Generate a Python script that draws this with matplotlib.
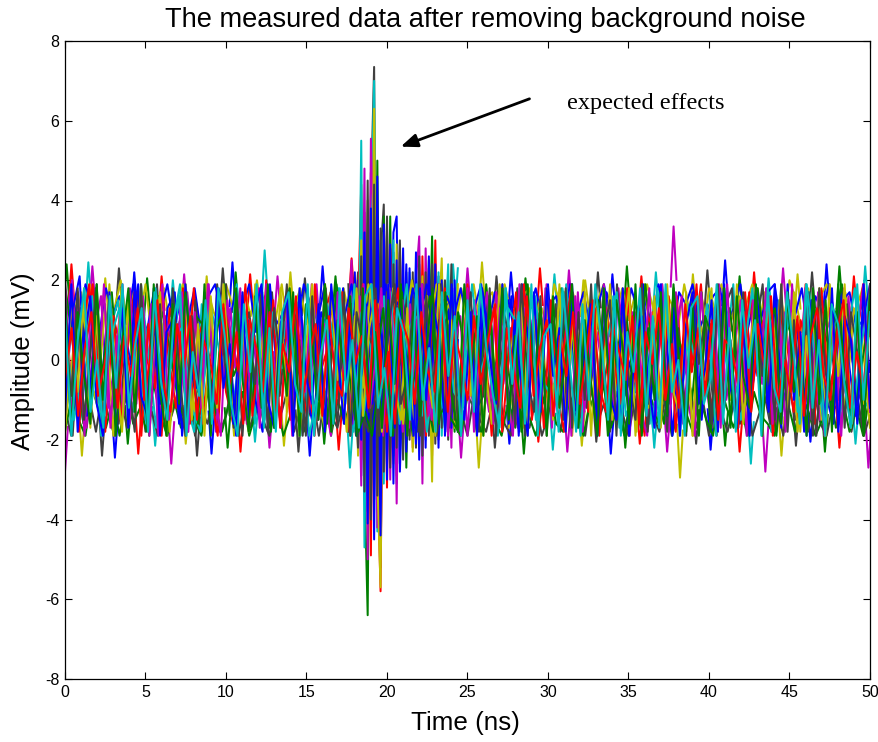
import matplotlib
matplotlib.use('Agg')
import matplotlib.pyplot as plt
import numpy as np

plt.rcParams['font.family'] = ['Liberation Sans', 'DejaVu Sans']
plt.rcParams['axes.unicode_minus'] = False

# MATLAB line colours
colors = ['#0000ff', '#007f00', '#ff0000', '#00bfbf', '#bf00bf', '#bfbf00', '#404040']

# long traces over the whole 0-50 ns record (mV), evenly spaced
trace_1 = [1.5,-1.2,0.4,1.9,-0.7,-1.8,1.1,0.2,-1.4,1.7,-0.3,0.9,-1.9,1.3,0.5,-1.0,1.8,-1.6,0.1,1.2,-0.8,-1.7,1.6,0.3,-1.3,2.0,-0.5,0.7,-1.5,1.4,-0.1,-1.9,1.0,1.7,-1.1,0.6,-1.6,1.9,-0.4,0.8,-1.8,1.2,0.2,-1.2,1.6,-0.9,-1.7,1.5,0.4,-1.4,1.8,-0.2,0.9,-1.9,1.1,0.6,-1.0,1.9,-1.5,0.3,1.4,-0.7,-1.8,1.7,0.1,-1.3,1.3,-0.6,0.8,-1.6,1.8,-0.3,-1.9,1.2,0.5,-1.1,1.6,-1.4,0.2,1.9,-0.8,-1.6,1.0,0.7,-1.2,1.7,-0.4,0.4,-1.8,1.5,-0.1,-1.5,1.9,-1.0,0.6,1.3,-1.7,0.9,-0.2,1.6,-1.3]
trace_2 = [-0.6,1.8,-1.5,0.3,1.2,-1.9,0.8,1.5,-0.4,-1.3,1.9,0.1,-1.7,1.0,-0.2,1.6,-1.1,-1.8,1.4,0.6,-0.9,1.9,-1.4,0.2,1.1,-1.6,1.7,-0.5,-1.2,0.9,1.5,-1.9,0.4,1.3,-0.7,-1.5,1.8,-0.1,-1.8,1.2,0.7,-1.0,1.6,-1.6,0.5,1.9,-0.6,-1.4,1.1,0.0,-1.7,1.7,-0.8,0.9,-1.2,1.4,0.3,-1.9,1.8,-0.3,-1.1,1.5,-1.5,0.6,1.0,-1.8,1.9,-0.2,-0.9,1.3,-1.3,0.8,1.6,-1.7,0.2,1.2,-0.6,-1.6,1.8,-0.4,0.5,-1.9,1.4,0.7,-1.0,1.7,-1.2,0.1,1.9,-1.5,-0.5,1.1,0.4,-1.8,1.5,-0.7,0.9,-1.4,1.7,0.0,-1.1,1.3,-1.6,0.6,1.8,-0.9,-1.3]
trace_3 = [0.9,2.0,-0.9,-1.7,0.6,1.6,-1.2,0.0,1.9,-1.6,0.7,-0.5,1.4,-1.9,1.1,0.3,-1.4,1.7,-0.2,-1.0,1.9,-1.8,0.5,1.3,-0.6,-1.5,0.8,1.8,-1.1,0.2,-1.7,1.5,-0.3,1.0,-1.3,1.9,-0.8,-1.9,1.2,0.4,-1.6,1.6,0.1,-0.7,1.8,-1.2,0.9,-1.8,1.4,-0.4,0.6,-1.5,1.9,-1.0,0.2,1.1,-1.9,1.5,-0.1,-1.3,1.7,-0.6,0.8,-1.7,1.3,0.5,-1.1,1.9,-1.4,0.3,-0.8,1.6,-1.8,1.0,0.7,-0.5,-1.5,1.8,-0.2,1.2,-1.2,-1.9,1.4,0.4,-0.9,1.7,-1.6,0.6,1.1,-0.3,-1.7,1.9,-1.0,0.1,1.5,-1.4,0.8,-0.6,1.6,-1.8,1.2,-0.1,-1.2,1.8,0.3,-1.5,1.0,0.5,-1.9,1.6,-0.7,-1.1,1.9]
trace_4 = [-1.7,0.2,1.7,-0.4,-1.1,1.4,-1.9,1.8,0.6,-0.8,-1.5,1.2,0.9,-1.8,0.4,1.9,-1.3,-0.1,1.5,-1.0,0.7,-1.9,1.6,0.1,-0.6,1.3,-1.7,1.0,1.8,-1.4,-0.3,0.8,-1.2,1.7,0.3,-1.8,1.1,-0.7,1.9,-1.1,0.0,1.4,-1.6,0.5,-0.5,1.6,-1.9,1.2,0.8,-1.3,1.8,-0.9,0.2,-1.6,1.9,-0.1,1.0,-1.7,0.6,1.5,-1.2,-0.4,1.7,-1.9,0.9,0.4,-1.0,1.6,-1.5,1.1,-0.2,-1.8,1.9,0.1,-0.7,1.4,-1.3,0.7,-1.9,1.7,0.5,-1.4,0.3,1.2,-0.9,-1.6,1.8,-0.5,1.0,-1.1,1.5,-1.8,0.2,0.8,-1.5,1.9,-0.3,-1.2,1.3,0.6,-1.7]
trace_5 = [0.4,-1.9,1.3,-0.2,1.8,-1.0,0.8,-1.6,0.5,1.6,-1.4,-0.4,1.9,-1.2,0.2,1.0,-1.8,1.5,-0.6,0.7,-1.3,1.9,-1.7,0.3,1.2,-0.1,-1.5,1.7,-0.9,0.9,1.4,-1.9,0.6,-0.7,1.8,-1.1,-0.2,1.3,-1.6,1.0,0.4,-1.9,1.7,-0.5,0.1,-1.2,1.5,-1.5,0.8,1.9,-0.8,-1.4,0.5,1.1,-1.8,1.6,-0.3,0.7,-1.1,1.8,-1.9,0.9,0.2,-0.6,1.4,-1.5,1.7,-0.1,-1.2,1.0,0.6,-1.7,1.9,-0.9,-0.3,1.2,-1.8,0.4,1.5,-1.1,0.8,-1.4,1.6,-0.4,0.0,-1.9,1.3,1.8,-1.3,-0.7,0.6,1.9,-1.6,0.3,-0.8,1.1,-1.2,1.7,-1.9,0.7,0.2,-1.0,1.4,-0.5,-1.7,1.6]
trace_6 = [-1.1,1.2,2.1,-1.4,0.3,-0.6,1.5,-1.8,0.9,-0.1,1.9,-1.5,0.6,-1.1,1.3,1.7,-1.9,0.0,-0.7,1.4,-1.2,1.8,0.4,-1.6,0.8,1.0,-1.0,-1.8,1.9,-0.4,0.5,-1.3,1.6,-0.9,-1.7,1.2,0.7,-0.2,1.8,-1.9,0.3,1.5,-1.1,0.9,-0.6,-1.5,1.7,0.2,-1.8,1.3,-0.3,1.9,-1.2,0.6,-0.9,1.1,-1.6,1.8,0.5,-1.4,0.1,1.6,-1.9,1.0,-0.5,-1.1,1.9,-0.7,0.4,1.5,-1.7,0.8,-0.2,-1.4,1.7,1.1,-1.6,0.0,-0.8,1.9,-1.0,0.6,1.3,-1.9,0.3,-0.4,1.6,-1.5,0.9,-1.2,1.8,0.2,-1.7,1.4,-0.6,0.5,-1.1,1.9,-1.3,-0.2,1.0,-1.8,1.5,0.7,-0.9,-1.6,1.7,0.1,-1.4,1.2,-0.3]
trace_7 = [1.9,0.1,-1.6,1.0,-0.3,1.7,-1.3,-0.6,1.4,-1.9,1.6,0.5,-0.9,-1.7,1.1,0.8,-1.4,1.9,-0.4,0.2,-1.1,1.5,-1.8,0.7,1.8,-1.2,-0.1,1.0,-1.6,1.9,0.3,-1.5,0.6,-0.5,1.3,-1.9,1.7,-0.8,0.4,1.6,-1.4,-1.0,1.2,0.0,-1.8,1.9,-0.6,0.5,-1.5,1.0,1.4,-1.1,-0.2,1.8,-1.7,0.7,-0.7,1.5,-1.9,0.3,1.1,-1.3,1.9,-0.4,-1.6,0.9,0.2,-1.0,1.7,-1.8,0.6,1.3,-0.5,-1.2,1.8,-0.1,-1.9,1.0,0.4,-0.9,1.6,-1.5,0.8,1.9,-1.7,-0.3,1.2]
trace_8 = [-0.2,1.4,-1.8,0.7,1.9,-1.0,-0.5,1.1,-1.5,0.3,1.7,-1.9,0.9,-0.7,1.6,0.0,-1.2,1.8,-1.6,0.5,1.0,-0.8,-1.9,1.3,0.6,-0.3,1.9,-1.4,0.2,-1.0,1.5,-1.7,0.8,1.2,-0.6,-1.5,1.9,-0.2,0.4,-1.3,1.7,-1.8,1.0,0.1,-0.9,1.4,-1.6,0.7,1.8,-1.2,-0.4,0.9,-1.9,1.6,0.3,-0.7,1.2,-1.5,1.9,-0.5,-1.1,0.6,1.4,-1.8,0.2,1.7,-1.3,-0.1,1.0,-1.7,1.5,-0.9,0.5,1.9,-1.4,-0.6,0.8,-1.9,1.3,0.1,-1.1,1.8,-0.3,-1.6,1.1,0.7,-1.2,1.6,-1.8,0.4,-0.4,1.9,-1.0,0.9,-1.5,1.3,0.0,-1.7,1.7,-0.7,0.6,1.2,-1.9,1.5,-0.2,-1.3,1.0,0.3,-1.6,1.8,-0.8,-0.1,1.4,-1.4,0.5,1.9,-1.1]
trace_9 = [1.1,-1.5,-0.1,1.6,-1.9,0.5,1.3,-0.9,0.2,-1.6,1.8,-0.6,1.0,0.7,-1.2,-1.8,1.5,0.3,-0.4,1.9,-1.3,0.6,-1.7,1.2,-0.2,0.9,1.6,-1.9,-0.7,1.4,0.1,-1.1,1.9,-1.4,0.4,-0.5,1.7,-1.6,0.8,1.1,-1.8,0.0,1.5,-0.8,-1.2,1.9,-0.3,0.6,-1.7,1.3,0.9,-1.5,1.6,-0.6,-1.0,1.8,0.2,-1.9,1.2,-0.2,0.5,1.7,-1.4,-0.8,1.0,-1.7,1.9,0.3,-1.2,0.7,-0.4,1.4,-1.9,1.6,-1.0,0.1,1.8,-1.5,0.6,-0.7,1.1,-1.3,1.9,-0.1,-1.8,0.8,1.4,-1.6,0.3,1.7]
trace_10 = [2.0,-1.6,1.7,-1.9,1.4,-0.9,1.9,-1.7,0.6,-1.4,1.8,-1.1,1.6,-1.9,0.8,1.9,-1.5,-0.4,1.7,-1.8,1.2,-1.2,1.9,-0.7,-1.9,1.5,-0.2,1.8,-1.6,1.0,-1.7,1.9,-1.3,0.4,1.6,-1.9,1.3,-0.8,1.9,-1.5,0.9,-1.8,1.7,-0.5,1.4,-1.6,1.9,-1.2,0.3,-1.9,1.8,-1.0,1.5,-1.7,0.7,1.9,-1.4,-0.3,1.6,-1.9,1.1,-1.1,1.8,-1.8,0.5,1.7,-1.6,1.3,-0.6,-1.9,1.9,-0.9,1.0,-1.5,1.8,-1.7,0.2,1.5,-1.9,1.7,-1.3,0.8,-1.8,1.9,-0.4,-1.6,1.4,-1.9,1.2,-0.7,1.8,-1.4,1.9,-1.8,0.6,1.6,-1.1,-1.9,1.7,-0.2,1.3,-1.7,1.9,-1.2,0.9,-1.9,1.5,-0.6,1.8,-1.6,1.1,-1.8,1.9,-0.8,0.4,-1.5,1.7,-1.9,1.4,-1.0,1.8,-1.7,0.7,1.9,-1.3]
trace_11 = [-1.9,1.6,-0.8,1.8,-1.7,1.1,-1.4,1.9,-0.3,-1.8,1.5,-1.0,1.9,-1.6,0.5,1.7,-1.9,1.2,-0.6,1.8,-1.5,0.9,-1.9,1.6,-1.2,1.9,-0.4,-1.7,1.4,-1.8,1.9,-0.9,0.7,-1.6,1.8,-1.3,1.5,-1.9,0.3,1.9,-1.1,-1.7,1.7,-0.5,1.2,-1.9,1.8,-1.4,0.8,1.6,-1.8,1.9,-0.7,-1.5,1.3,-1.9,1.7,-0.2,-1.2,1.9,-1.6,1.0,-1.8,1.8,-0.9,0.6,-1.9,1.5,-1.3,1.9,-1.7,0.4,1.6,-1.9,1.1,-0.6,1.8,-1.5,1.9,-1.8,0.9,-1.1,1.7,-1.9,1.3,-0.3,1.9,-1.6,0.5,1.8,-1.9,1.4,-1.2,1.6,-1.7,1.9,-0.8,-1.4,1.7,-1.9,1.0,-0.5,1.8,-1.8,1.5,-1.0,1.9,-1.6,0.2,1.6,-1.9,1.3,-0.7,1.9,-1.5,1.7,-1.8,0.6,-1.3,1.8,-1.9,1.2,-0.4,1.9,-1.7,1.4,-1.1,1.6]
trace_12 = [0.7,-0.9,1.8,-1.5,0.2,1.9,-1.9,1.0,-1.2,1.6,-0.5,-1.8,1.9,-1.3,0.6,1.4,-1.6,1.8,-0.2,-1.9,1.1,-0.8,1.7,-1.7,1.9,0.3,-1.4,1.5,-1.9,0.9,-0.6,1.8,-1.8,1.3,-0.1,1.9,-1.5,0.5,-1.9,1.6,-1.0,1.9,-0.3,-1.6,1.7,-1.9,1.2,0.4,-1.3,1.8,-1.7,0.8,1.9,-1.1,-0.4,1.5,-1.9,1.6,-0.7,1.0,-1.5,1.9,-1.8,0.1,1.7,-1.2,-0.9,1.8,-1.9,1.4,0.6,-1.6,1.9,-0.5,-1.3,1.6,-1.9,0.9,-0.2,1.8,-1.7,1.2,-1.0,1.9,-1.4,0.7,1.5,-1.9,1.7,-0.6,-1.5,1.9,-1.1,0.3,1.3,-1.8,1.8,-0.8,-1.9,1.6,-0.1,1.1,-1.6,1.9,-1.2,0.5,-1.7,1.7,-1.9,1.4,-0.4,0.8,-1.5,1.9,-1.8,1.0,-0.9,1.6,-1.9,1.8,-0.3,-1.4,1.5,-1.7,1.2,0.2,-1.9,1.9]
trace_13 = [-1.4,1.9,-1.8,0.5,1.6,-1.1,-1.9,1.7,-0.6,1.3,-1.7,1.9,-0.9,-1.4,1.8,-1.9,0.7,1.0,-1.6,1.9,-0.3,-1.2,1.5,-1.8,1.8,-0.7,0.4,-1.9,1.7,-1.5,1.2,1.9,-1.0,-1.7,0.9,1.6,-1.9,1.8,-0.4,-1.1,1.4,-1.8,1.9,0.2,-1.6,1.1,-1.9,1.7,-0.8,0.6,-1.4,1.9,-1.7,1.3,-0.2,-1.9,1.8,-1.0,1.5,0.5,-1.8,1.9,-0.6,-1.5,1.2,-1.9,1.6,0.1,-1.1,1.9,-1.6,1.0,-0.7,-1.9,1.7,-1.3,1.8,-0.4,0.8,-1.8,1.9,-1.2,0.3,1.4,-1.9,1.6,-0.9,-1.5,1.8,-1.9,0.6,1.1,-0.5,-1.7,1.9,-1.4,1.3,-1.9,0.9,1.7,-1.1,-0.2,1.5,-1.8,1.9,-0.7,-1.6,1.2,-1.9,1.8,0.4,-1.3,1.6,-1.7,1.9,-1.0,0.7,-1.9,1.4,-0.1,-1.5,1.8,-1.8,1.1,0.5,-1.6,1.9,-1.2]
trace_14 = [1.7,-1.8,1.2,-0.4,-1.6,1.9,-1.0,1.5,-1.9,0.4,1.8,-1.3,1.1,-1.7,1.9,-0.8,-1.9,1.4,-1.1,1.7,0.2,-1.6,1.9,-1.9,0.8,1.3,-1.4,1.8,-0.5,-1.8,1.6,-1.2,1.9,-1.7,0.5,-0.9,1.7,-1.9,1.4,0.6,-1.5,1.9,-1.8,1.0,-0.2,1.6,-1.9,1.8,-1.1,0.7,-1.7,1.5,-0.6,1.9,-1.9,1.2,-1.4,0.3,1.8,-1.6,1.7,-0.9,-1.8,1.9,-0.3,1.1,-1.9,1.5,-1.0,1.8,-1.5,0.6,-1.8,1.9,-0.7,1.3,-1.9,1.6,-1.2,0.1,1.9,-1.7,1.0,-0.6,-1.9,1.8,-1.3,1.5,0.3,-1.6,1.9,-1.9,0.8,-1.0,1.7,-1.4,1.9,-0.2,-1.8,1.4,-1.9,1.1,0.6,-1.5,1.8,-1.7,1.6,-0.4,-1.2,1.9,-1.9,0.9,1.3,-1.6,1.7,-0.8,0.2,-1.9,1.8,-1.1,1.5,-1.8,1.9,-0.5,-1.4,1.2,-1.9,1.6]
trace_15 = [-0.5,0.8,-1.4,0.3,1.2,-0.9,-0.1,1.0,-1.2,0.6,-0.4,1.3,-1.0,0.2,1.5,-0.7,-1.3,0.9,-0.2,1.1,-1.5,0.5,0.0,-1.1,1.4,-0.6,0.7,-1.6,1.0,0.3,-0.8,1.2,-1.3,0.4,-0.3,1.6,-1.0,0.1,0.9,-1.4,1.1,-0.5,-0.9,1.3,-0.1,0.6,-1.2,1.5,-0.7,0.2,-1.6,1.0,0.5,-1.1,1.2,-0.3,-0.8,1.4,-1.3,0.7,0.0,-1.0,1.1,-0.6,0.4,1.3,-1.5,0.8,-0.2,-1.2,1.6,-0.9,0.3,1.0,-1.4,0.6,-0.4,1.2,-1.1,0.1,1.5,-0.7,-1.3,0.9,0.2,-0.5,1.1,-1.6,0.7,-0.1,1.3,-1.0,0.4,-1.2,1.4,-0.3,0.8,-0.9,1.0,-1.5,0.5,0.3,-0.6,1.2,-1.3,0.9,-0.2,1.6,-1.1,0.0,-0.8,1.1,-1.4,0.6,1.3,-0.4,-1.0,0.7,1.5,-1.2,0.2,-0.7,1.0]
trace_16 = [1.2,-1.9,0.5,1.8,-1.3,0.0,-1.7,1.6,-0.7,1.9,-1.2,0.4,1.3,-1.8,1.7,-0.5,-1.5,1.0,1.9,-1.9,0.2,-0.9,1.5,-1.6,1.8,0.6,-1.1,-1.9,1.4,-0.3,1.9,-1.4,0.8,-1.8,1.2,1.7,-0.6,-1.3,1.9,-1.9,0.1,1.0,-1.6,1.8,-0.8,0.5,-1.7,1.6,1.9,-1.2,-0.2,-1.9,1.3,0.7,-1.5,1.9,-1.0,0.3,-1.8,1.7,-0.4,1.1,-1.9,1.5,-1.3,1.9,0.2,-0.9,-1.7,1.8,-0.6,1.2,-1.6,1.9,-1.9,0.6,0.9,-1.2,1.7,-0.1,-1.8,1.4,-1.0,1.9,0.4,-1.5,1.6,-1.9,0.7,-0.3,1.8,-1.4,1.1,-1.7,1.9,-0.8,0.0,-1.9,1.3,1.6,-1.1,-0.5,1.9,-1.6,0.8,-1.8,1.5,-0.2,1.0,-1.9,1.8,-0.7,-1.3,1.7,0.3,-1.6,1.9,-1.2,0.5,-1.9,1.4,0.9,-0.6,-1.7,1.9,-1.0,1.2]

# traces keeping to the upper part of the band
high_1 = [1.8,0.9,1.5,0.7,1.9,1.1,1.6,0.8,1.3,2.0,0.9,1.7,1.0,1.9,0.6,1.4,1.8,0.8,1.2,1.9,1.0,1.6,0.7,1.8,1.2,0.9,1.9,1.4,0.6,1.7,1.1,2.0,0.8,1.5,1.0,1.9,0.7,1.3,1.8,0.9,1.6,1.2,1.9,0.6,1.4,1.8,1.0,1.7,0.8,1.9,1.1,1.5,0.7,1.8,1.3,0.9,2.0,1.2,1.6,0.8,1.9,1.0,1.4,0.7,1.8,1.1,1.9,0.9,1.5,1.7,0.6,1.9,1.2,0.8,1.6,1.8,1.0,1.3,0.7,1.9,1.4,0.9,1.7,1.1,2.0,0.8,1.5,1.9,0.6,1.2,1.8,1.0,1.6,0.7,1.9,1.3,0.9,1.7,1.4,0.8,1.9,1.1,1.5,0.6,1.8,1.2,1.9,1.0,0.7,1.6,1.4,1.9,0.8,1.7,1.1,1.3,0.9,2.0,1.5,0.7,1.8,1.0,1.6,1.9,0.8,1.2,1.7,0.9,1.4,1.9,0.6]
high_2 = [1.0,1.7,0.8,1.9,1.3,0.6,1.8,1.1,1.6,0.9,1.9,1.4,0.7,1.7,1.2,1.9,0.8,1.5,1.0,1.8,0.6,1.6,1.9,1.1,0.9,1.7,1.3,1.9,0.7,1.5,1.8,0.9,1.2,1.6,0.8,1.9,1.4,1.0,1.8,0.7,1.7,1.1,1.9,0.9,1.3,1.6,0.6,1.9,1.2,1.5,0.8,1.8,1.0,1.9,1.4,0.7,1.6,1.1,1.8,0.9,1.3,1.9,0.8,1.7,1.0,1.5,0.6,1.9,1.2,1.8,0.9,1.4,1.6,0.7,1.9,1.1,1.7,0.8,1.3,1.9,1.0,1.6,0.7,1.8,1.2,1.5,0.9,1.9,1.1,0.6,1.7,1.4,1.9,0.8,1.2,1.6,1.8,0.9,1.3,1.9,0.7,1.5,1.0,1.7,1.9,0.8,1.4,1.1,1.8,0.6,1.6,1.2,1.9,0.9,1.5,1.7,0.8,1.0,1.9]

# traces keeping to the lower part of the band
low_1 = [-1.2,-1.9,-0.7,-1.6,-1.0,-1.8,-0.8,-1.4,-1.9,-0.9,-1.7,-1.1,-0.6,-1.8,-1.3,-1.9,-0.8,-1.5,-1.0,-1.7,-0.7,-1.9,-1.2,-1.6,-0.9,-1.8,-1.4,-0.6,-1.9,-1.1,-1.7,-0.8,-1.5,-1.9,-1.0,-1.3,-0.7,-1.8,-1.2,-1.6,-0.9,-1.9,-0.8,-1.4,-1.7,-1.0,-0.6,-1.9,-1.3,-1.8,-0.9,-1.5,-1.1,-1.9,-0.7,-1.6,-1.2,-1.8,-0.8,-1.4,-1.9,-1.0,-1.7,-0.6,-1.3,-1.9,-0.9,-1.5,-1.8,-1.1,-0.7,-1.6,-1.9,-0.8,-1.2,-1.7,-1.0,-1.9,-1.4,-0.6,-1.8,-0.9,-1.5,-1.2,-1.9,-0.7,-1.6,-1.1,-1.8,-0.8,-1.3,-1.9,-1.0,-1.7,-0.6,-1.4,-1.8,-0.9,-1.9,-1.2,-1.5,-0.7,-1.7,-1.0,-1.9,-0.8,-1.3,-1.8,-1.1,-1.6,-0.6,-1.9,-1.4,-0.9,-1.7,-1.2,-1.9,-0.7,-1.5,-1.0,-1.8,-0.8,-1.6,-1.9,-1.1,-1.3,-0.6,-1.8,-1.0,-1.9,-1.4]
low_2 = [-1.8,-0.9,-1.5,-1.9,-0.7,-1.3,-1.7,-1.0,-1.9,-0.8,-1.6,-1.2,-1.8,-0.6,-1.4,-1.9,-1.0,-1.7,-0.9,-1.5,-1.9,-0.7,-1.2,-1.8,-1.1,-1.6,-0.8,-1.9,-1.3,-0.6,-1.7,-1.0,-1.9,-1.4,-0.8,-1.8,-1.2,-1.5,-0.7,-1.9,-1.0,-1.6,-0.9,-1.8,-1.3,-1.9,-0.6,-1.4,-1.7,-1.1,-0.8,-1.9,-1.5,-1.0,-1.8,-0.7,-1.3,-1.6,-1.9,-0.9,-1.2,-1.8,-0.6,-1.5,-1.9,-1.0,-1.7,-0.8,-1.4,-1.9,-1.1,-0.7,-1.6,-1.8,-0.9,-1.3,-1.9,-1.0,-1.5,-0.6,-1.7,-1.2,-1.9,-0.8,-1.4,-1.8,-1.0,-1.6,-0.7,-1.9,-1.1,-1.3,-1.8,-0.9,-1.5,-1.9,-0.6,-1.2,-1.7,-1.0,-1.9,-0.8,-1.4,-1.6,-1.9,-0.7,-1.1,-1.8,-0.9,-1.3,-1.9,-1.5,-0.6,-1.7,-1.0,-1.8,-1.2,-1.9,-0.8]

# single excursions past the edge of the band
peak_t = [0.1,0.4,1.45,1.7,2.5,3.35,4.3,5.1,6.0,6.7,7.4,8.8,9.8,10.4,10.6,11.5,12.4,13.2,14.0,14.9,16.0,16.8,17.8,24.1,25.0,25.9,26.8,27.7,28.6,29.5,30.4,31.3,32.2,33.1,34.0,34.9,35.8,36.7,37.8,39.0,39.9,41.0,41.9,42.8,43.7,44.6,45.5,46.4,47.3,48.1,49.0,49.7,
          0.0,1.05,2.3,3.1,3.9,4.55,5.6,6.6,7.5,8.2,9.1,10.1,10.9,11.8,12.7,13.6,14.5,15.2,16.1,17.0,17.7,24.6,25.7,26.7,27.6,28.5,29.4,30.3,31.2,32.1,33.0,33.9,34.8,35.7,36.6,37.4,38.2,39.2,40.1,41.0,41.9,42.6,43.5,44.5,45.4,46.3,47.2,48.1,49.1,49.9]
peak_y = [2.4,2.4,2.45,2.35,2.05,2.3,2.2,2.05,2.1,2.0,2.15,2.1,2.3,2.45,2.2,2.15,2.75,2.1,2.2,2.05,2.35,2.1,2.55,2.4,2.3,2.45,2.1,2.2,2.05,2.3,2.15,2.25,2.0,2.2,2.15,2.35,2.1,2.2,3.35,2.15,2.25,2.5,2.1,2.2,2.05,2.3,2.15,2.2,2.4,2.35,2.1,2.35,
          -2.8,-2.4,-2.4,-2.45,-2.1,-2.35,-2.15,-2.6,-2.1,-2.4,-2.35,-2.2,-2.3,-2.05,-2.2,-2.15,-2.3,-2.4,-2.1,-2.25,-2.7,-2.45,-2.7,-2.2,-2.1,-2.35,-2.05,-2.25,-2.3,-2.15,-2.05,-2.35,-2.2,-2.1,-2.2,-2.3,-2.95,-2.1,-2.25,-2.15,-2.3,-2.6,-2.8,-2.4,-2.15,-2.05,-2.3,-2.2,-2.1,-2.7]

# finer traces around the echo at 18-24 ns
burst_t = [17.6,17.8,18.0,18.2,18.4,18.6,18.8,19.0,19.2,19.4,19.6,19.8,20.0,20.2,20.4,20.6,20.8,21.0,21.2,21.4,21.6,21.8,22.0,22.2,22.4,22.6,22.8,23.0,23.2,23.4,23.6,23.8,24.0,24.2,24.4]
burst_1 = [0.4,1.2,-1.0,2.0,-2.9,1.8,-3.8,3.4,-4.5,3.6,-5.2,2.1,1.2,-2.2,3.2,3.6,-2.8,-0.3,2.4,-1.6,1.5,-2.1,2.4,-1.7,0.8,2.0,-1.9,0.6,2.1,-1.4,1.3,-0.6,1.7,-1.2,0.5]
burst_2 = [-0.9,0.7,1.8,-1.9,3.6,-3.0,-6.4,4.7,-2.8,5.0,-3.4,3.6,-1.8,3.6,-2.4,1.6,-1.5,1.7,-2.7,0.9,2.0,-1.3,0.7,-2.0,1.6,-0.4,3.1,-1.7,0.3,1.9,-1.5,2.0,-0.8,-1.8,1.3]
burst_3 = [1.5,-0.6,-1.7,1.2,4.4,-1.8,3.2,-4.9,5.2,-2.6,-5.8,3.0,-3.2,2.8,0.6,-2.9,2.2,-2.0,1.4,1.9,-2.2,0.8,-1.9,2.6,-0.8,2.3,-2.4,3.0,-1.3,0.5,1.8,-1.8,1.4,0.3,-1.6]
burst_4 = [-1.5,2.0,0.3,-1.6,5.5,-4.7,2.5,3.1,7.0,-4.3,3.0,-3.1,2.2,-1.7,3.0,-3.1,1.0,1.9,-1.3,2.2,-1.7,2.3,-0.9,1.3,-2.0,1.7,0.2,-1.5,2.2,-1.9,0.7,2.4,-1.5,1.1,2.3]
burst_5 = [0.9,2.5,-1.3,0.8,-3.15,4.8,-5.0,5.55,2.9,-4.2,1.9,-2.5,3.3,-3.0,1.5,-3.6,2.7,-1.1,0.9,-1.9,1.4,2.0,3.1,-3.1,2.8,-1.2,1.2,-0.5,-2.0,1.7,-1.0,0.9,-2.2,1.8,-0.6]
burst_6 = [-1.2,0.1,1.6,-2.4,3.0,-2.0,4.0,-3.6,6.3,-3.0,-5.7,3.2,-1.5,2.4,-2.6,2.9,-2.1,2.0,-0.7,1.4,-2.3,1.2,-1.0,2.1,-1.3,0.5,-3.05,2.2,0.9,2.55,-1.1,1.6,0.2,-1.7,1.9]
burst_7 = [1.9,-1.4,1.0,2.2,-2.5,3.7,-3.4,4.1,7.35,-3.8,2.6,3.9,-2.6,1.1,2.7,-2.3,3.0,-1.4,2.2,-1.8,0.6,-2.2,1.9,0.4,-1.5,2.5,-1.1,1.3,-1.9,1.0,2.0,-0.7,2.4,-1.3,0.8]
burst_8 = [-1.8,1.4,-0.7,-2.2,2.6,-3.3,4.5,-4.0,4.4,-3.4,3.3,-2.8,3.6,-2.7,2.4,-2.2,2.9,-2.5,1.8,-2.0,2.2,-1.6,2.6,-2.4,2.2,-1.9,2.4,-2.1,1.7,-1.7,1.5,-2.0,1.6,-1.5,1.2]
burst_9 = [1.0,-1.7,2.2,-0.8,-2.0,3.2,-4.1,3.8,-3.5,4.6,-4.4,3.4,-3.0,2.9,-3.1,2.5,-2.6,2.8,-2.3,2.3,-1.5,2.7,-2.5,1.9,-2.2,2.6,-1.4,2.4,-2.2,2.0,-1.9,1.4,-1.7,2.0,-1.8]

long_traces = [high_1, low_1, high_2, low_2, trace_1, trace_2, trace_3, trace_4, trace_5, trace_6, trace_7, trace_8,
               trace_9, trace_10, trace_11, trace_12, trace_13, trace_14, trace_15, trace_16]
burst_traces = [burst_7, burst_1, burst_2, burst_3, burst_4, burst_5, burst_6, burst_8, burst_9]

W, H = 879, 742
fig = plt.figure(figsize=(W / 100, H / 100), dpi=100)
ax = fig.add_axes([65 / W, 1 - 679 / H, 805 / W, 638 / H])

LW = 1.45
for i, (t, p) in enumerate(zip(peak_t, peak_y)):
    ax.plot([t - 0.18, t, t + 0.18], [0.55 * p, p, 0.6 * p], color=colors[(i + 1) % 7], lw=LW)
for i, y in enumerate(burst_traces):
    ax.plot(burst_t, y, color=colors[(i + 6) % 7], lw=LW)
for i, y in enumerate(long_traces):
    ax.plot(np.linspace(0, 50, len(y)), y, color=colors[(i + 5) % 7], lw=LW)

ax.set_xlim(0, 50)
ax.set_ylim(-8, 8)
ax.set_xticks(np.arange(0, 51, 5))
ax.set_yticks(np.arange(-8, 9, 2))
ax.tick_params(direction='in', top=True, right=True, length=5, width=0.8, labelsize=11.5, pad=4)
for s in ax.spines.values():
    s.set_linewidth(0.9)

fig.text(485 / W, 1 - 20 / H, 'The measured data after removing background noise', fontsize=19.6, ha='center', va='center')
fig.text(465 / W, 1 - 723 / H, 'Time (ns)', fontsize=18.7, ha='center', va='center')
fig.text(23 / W, 1 - 361 / H, 'Amplitude (mV)', fontsize=18.5, ha='center', va='center', rotation=90)

ax.annotate('', xy=(20.85, 5.35), xytext=(28.85, 6.55),
            arrowprops=dict(arrowstyle='-|>,head_length=1.0,head_width=0.4', color='black', lw=2, shrinkA=0, shrinkB=0))
fig.text(567 / W, 1 - 103 / H, 'expected effects', family=['Liberation Serif'], fontsize=17.5, va='center')

fig.savefig('out.png', dpi=100)
